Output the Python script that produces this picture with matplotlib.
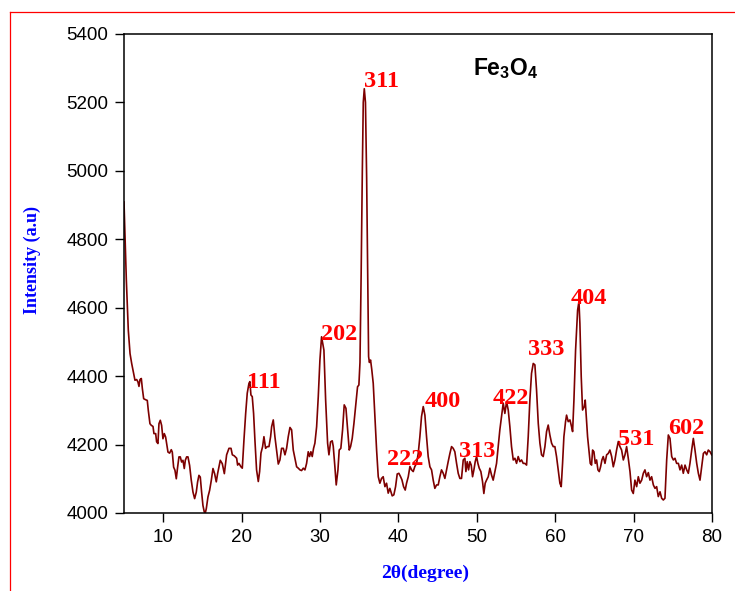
import matplotlib
matplotlib.use("Agg")
import matplotlib.pyplot as plt
from matplotlib.lines import Line2D

plt.rcParams['font.family'] = ['Liberation Sans', 'DejaVu Sans']
plt.rcParams['mathtext.fontset'] = 'custom'
plt.rcParams['mathtext.rm'] = 'Liberation Sans'
plt.rcParams['mathtext.bf'] = 'Liberation Sans:bold'

# XRD pattern of Fe3O4: 2-theta (degree) and measured intensity (a.u.)
two_theta = [
    5.00, 5.30, 5.55, 5.77, 5.98, 6.15, 6.40, 6.62, 6.78, 6.91, 7.04, 7.21, 7.34, 7.51,
    7.76, 7.97, 8.10, 8.31, 8.49, 8.70, 8.82, 9.04, 9.16, 9.33, 9.46, 9.63, 9.80, 9.97,
    10.14, 10.31, 10.44, 10.61, 10.82, 11.03, 11.16, 11.33, 11.50, 11.67, 11.84, 12.01,
    12.18, 12.35, 12.52, 12.69, 12.82, 12.99, 13.16, 13.37, 13.58, 13.80, 14.01, 14.22,
    14.39, 14.56, 14.73, 14.90, 15.07, 15.24, 15.37, 15.50, 15.71, 15.92, 16.14, 16.35,
    16.56, 16.77, 16.94, 17.11, 17.28, 17.54, 17.80, 18.09, 18.39, 18.65, 18.82, 19.07,
    19.37, 19.49, 19.66, 19.92, 20.09, 20.30, 20.52, 20.72, 20.94, 21.06, 21.19, 21.36,
    21.53, 21.70, 21.91, 22.13, 22.30, 22.47, 22.68, 22.85, 23.06, 23.27, 23.49, 23.70,
    23.83, 24.04, 24.25, 24.46, 24.68, 24.89, 25.10, 25.32, 25.53, 25.74, 25.95, 26.17,
    26.38, 26.59, 26.80, 27.02, 27.23, 27.44, 27.65, 27.87, 28.08, 28.29, 28.50, 28.67,
    28.84, 29.01, 29.18, 29.35, 29.57, 29.78, 29.99, 30.20, 30.50, 30.72, 30.97, 31.14,
    31.35, 31.56, 31.69, 31.90, 32.07, 32.29, 32.45, 32.66, 32.88, 33.09, 33.31, 33.52,
    33.73, 33.90, 34.11, 34.33, 34.58, 34.79, 34.96, 35.10, 35.25, 35.40, 35.52, 35.65,
    35.80, 35.95, 36.08, 36.20, 36.30, 36.45, 36.60, 36.79, 37.00, 37.22, 37.43, 37.64,
    37.85, 38.06, 38.28, 38.49, 38.70, 38.91, 39.21, 39.42, 39.64, 39.85, 40.06, 40.28,
    40.45, 40.66, 40.87, 41.04, 41.26, 41.47, 41.68, 41.89, 42.10, 42.32, 42.53, 42.74,
    42.95, 43.17, 43.38, 43.59, 43.80, 44.02, 44.23, 44.44, 44.65, 44.87, 45.08, 45.29,
    45.50, 45.72, 45.93, 46.14, 46.35, 46.57, 46.78, 46.99, 47.20, 47.42, 47.63, 47.84,
    48.05, 48.27, 48.48, 48.61, 48.78, 48.95, 49.12, 49.29, 49.46, 49.63, 49.80, 49.97,
    50.14, 50.31, 50.52, 50.73, 50.90, 51.07, 51.24, 51.46, 51.67, 51.88, 52.09, 52.31,
    52.52, 52.73, 52.94, 53.16, 53.37, 53.58, 53.80, 54.01, 54.22, 54.43, 54.65, 54.86,
    55.07, 55.28, 55.50, 55.71, 55.92, 56.13, 56.35, 56.56, 56.77, 56.98, 57.20, 57.41,
    57.62, 57.84, 58.05, 58.26, 58.47, 58.69, 58.90, 59.11, 59.32, 59.54, 59.75, 59.96,
    60.17, 60.39, 60.60, 60.77, 60.94, 61.11, 61.32, 61.45, 61.66, 61.88, 62.09, 62.22,
    62.39, 62.60, 62.86, 63.03, 63.15, 63.32, 63.49, 63.71, 63.83, 63.96, 64.13, 64.30,
    64.47, 64.64, 64.77, 64.94, 65.11, 65.28, 65.45, 65.62, 65.79, 65.96, 66.13, 66.35,
    66.56, 66.77, 66.98, 67.20, 67.41, 67.62, 67.83, 68.05, 68.26, 68.47, 68.69, 68.90,
    69.11, 69.32, 69.54, 69.75, 69.96, 70.17, 70.39, 70.60, 70.81, 71.03, 71.24, 71.45,
    71.66, 71.88, 72.09, 72.30, 72.52, 72.73, 72.94, 73.15, 73.37, 73.58, 73.79, 74.00,
    74.22, 74.43, 74.64, 74.86, 75.07, 75.28, 75.49, 75.71, 75.92, 76.13, 76.34, 76.56,
    76.77, 76.98, 77.19, 77.41, 77.62, 77.83, 78.05, 78.26, 78.47, 78.68, 78.90, 79.11,
    79.32, 79.53, 79.75, 79.96,
]
intensity = [
    4909, 4680, 4534, 4466, 4437, 4417, 4388, 4390, 4383, 4370, 4390, 4393, 4364, 4334,
    4331, 4329, 4300, 4261, 4256, 4253, 4232, 4232, 4208, 4203, 4261, 4271, 4256, 4217,
    4232, 4222, 4203, 4178, 4175, 4185, 4178, 4134, 4125, 4100, 4134, 4164,
    4164, 4149, 4154, 4130, 4154, 4164, 4164, 4139, 4096, 4061, 4042, 4061,
    4091, 4110, 4105, 4061, 4022, 4003, 4000, 4013, 4047, 4066, 4096, 4130,
    4115, 4091, 4115, 4134, 4154, 4144, 4115, 4170, 4189, 4189, 4170, 4167,
    4160, 4140, 4145, 4135, 4131, 4213, 4291, 4350, 4379, 4384, 4345, 4340,
    4291, 4213, 4126, 4092, 4121, 4175, 4194, 4223, 4189, 4194, 4194, 4223,
    4252, 4272, 4223, 4184, 4143, 4155, 4189, 4189, 4170, 4189, 4223, 4250,
    4243, 4184, 4160, 4135, 4131, 4126, 4124, 4131, 4126, 4145, 4179, 4165,
    4179, 4165, 4189, 4204, 4252, 4340, 4447, 4515, 4476, 4330, 4204, 4170,
    4208, 4211, 4195, 4135, 4082, 4126, 4184, 4189, 4243, 4316, 4306, 4243,
    4184, 4194, 4218, 4262, 4321, 4369, 4374, 4440, 4700, 5000, 5200, 5240,
    5200, 4980, 4720, 4457, 4440, 4447, 4420, 4379, 4282, 4184, 4106, 4087,
    4101, 4106, 4077, 4087, 4058, 4072, 4050, 4053, 4077, 4114, 4116, 4106,
    4097, 4077, 4067, 4087, 4106, 4136, 4126, 4121, 4136, 4145, 4174, 4223,
    4282, 4311, 4286, 4223, 4165, 4135, 4126, 4096, 4072, 4082, 4082, 4106,
    4126, 4116, 4101, 4126, 4150, 4174, 4194, 4189, 4179, 4145, 4116, 4101,
    4101, 4155, 4160, 4121, 4150, 4126, 4150, 4140, 4106, 4126, 4150, 4165,
    4145, 4131, 4121, 4092, 4057, 4087, 4096, 4106, 4131, 4111, 4096, 4121,
    4145, 4194, 4243, 4282, 4321, 4291, 4325, 4301, 4252, 4194, 4155, 4160,
    4145, 4165, 4150, 4155, 4145, 4145, 4140, 4223, 4330, 4408, 4437, 4433,
    4360, 4262, 4204, 4170, 4165, 4194, 4238, 4257, 4228, 4204, 4194, 4194,
    4165, 4126, 4087, 4077, 4145, 4223, 4267, 4286, 4267, 4272, 4252, 4238,
    4330, 4476, 4593, 4618, 4554, 4399, 4301, 4311, 4330, 4282, 4223, 4184,
    4145, 4140, 4184, 4179, 4145, 4155, 4126, 4121, 4135, 4155, 4165, 4145,
    4170, 4174, 4184, 4165, 4135, 4155, 4184, 4209, 4194, 4184, 4155, 4170,
    4194, 4160, 4121, 4067, 4057, 4096, 4077, 4106, 4087, 4096, 4116, 4126,
    4106, 4118, 4096, 4106, 4082, 4072, 4077, 4048, 4062, 4043, 4038, 4043,
    4155, 4228, 4218, 4165, 4155, 4160, 4145, 4145, 4126, 4140, 4116, 4140,
    4126, 4116, 4145, 4184, 4218, 4184, 4145, 4116, 4096, 4135, 4174, 4179,
    4170, 4184, 4179, 4170,
]

# Miller-index annotations (label text, 2-theta and intensity of the text anchor)
hkl_labels = ['111', '202', '311', '222', '400', '313', '422', '333', '404', '531', '602']
hkl_theta = [20.72, 30.16, 35.55, 38.52, 43.33, 47.79, 52.04, 56.50, 61.94, 67.97, 74.35]
hkl_intensity = [4364, 4506, 5244, 4140, 4311, 4165, 4319, 4462, 4611, 4199, 4230]

x_ticks = [10, 20, 30, 40, 50, 60, 70, 80]
y_ticks = [4000, 4200, 4400, 4600, 4800, 5000, 5200, 5400]

fig = plt.figure(figsize=(7.35, 5.91), dpi=100)
ax = fig.add_axes([0.1687, 0.1320, 0.800, 0.8105])

ax.plot(two_theta, intensity, color='#7d0000', lw=1.2, solid_joinstyle='round')

ax.set_xlim(5, 80)
ax.set_ylim(4000, 5400)
ax.set_xticks(x_ticks)
ax.set_yticks(y_ticks)
ax.tick_params(direction='out', length=6.5, width=1.0, labelsize=13.5, pad=5,
               top=False, right=False)
for sp in ax.spines.values():
    sp.set_linewidth(1.1)

serif_bold = dict(family=['Liberation Serif', 'DejaVu Serif'], weight='bold')
for txt, tx, ty in zip(hkl_labels, hkl_theta, hkl_intensity):
    ax.text(tx, ty, txt, color='#ff0000', fontsize=17.5, ha='left', va='baseline',
            **serif_bold)

ax.text(49.5, 5280, r'$\mathbf{Fe_3O_4}$', fontsize=16.5, ha='left', va='baseline',
        color='black')

fig.text(32 / 735, 1 - 260 / 591, 'Intensity (a.u)', rotation=90, color='#0000ff',
         fontsize=13, ha='center', va='center', **serif_bold)
fig.text(425 / 735, 1 - 573 / 591, '2θ(degree)', color='#0000ff', fontsize=14,
         ha='center', va='center', **serif_bold)

# thin red frame around the graphic
x0 = 10 / 735
y0 = 1 - 12 / 591
fig.add_artist(Line2D([x0, 1.0], [y0, y0], transform=fig.transFigure, color='red', lw=0.9))
fig.add_artist(Line2D([x0, x0], [0.0, y0], transform=fig.transFigure, color='red', lw=0.9))

fig.savefig('out.png', dpi=100)
